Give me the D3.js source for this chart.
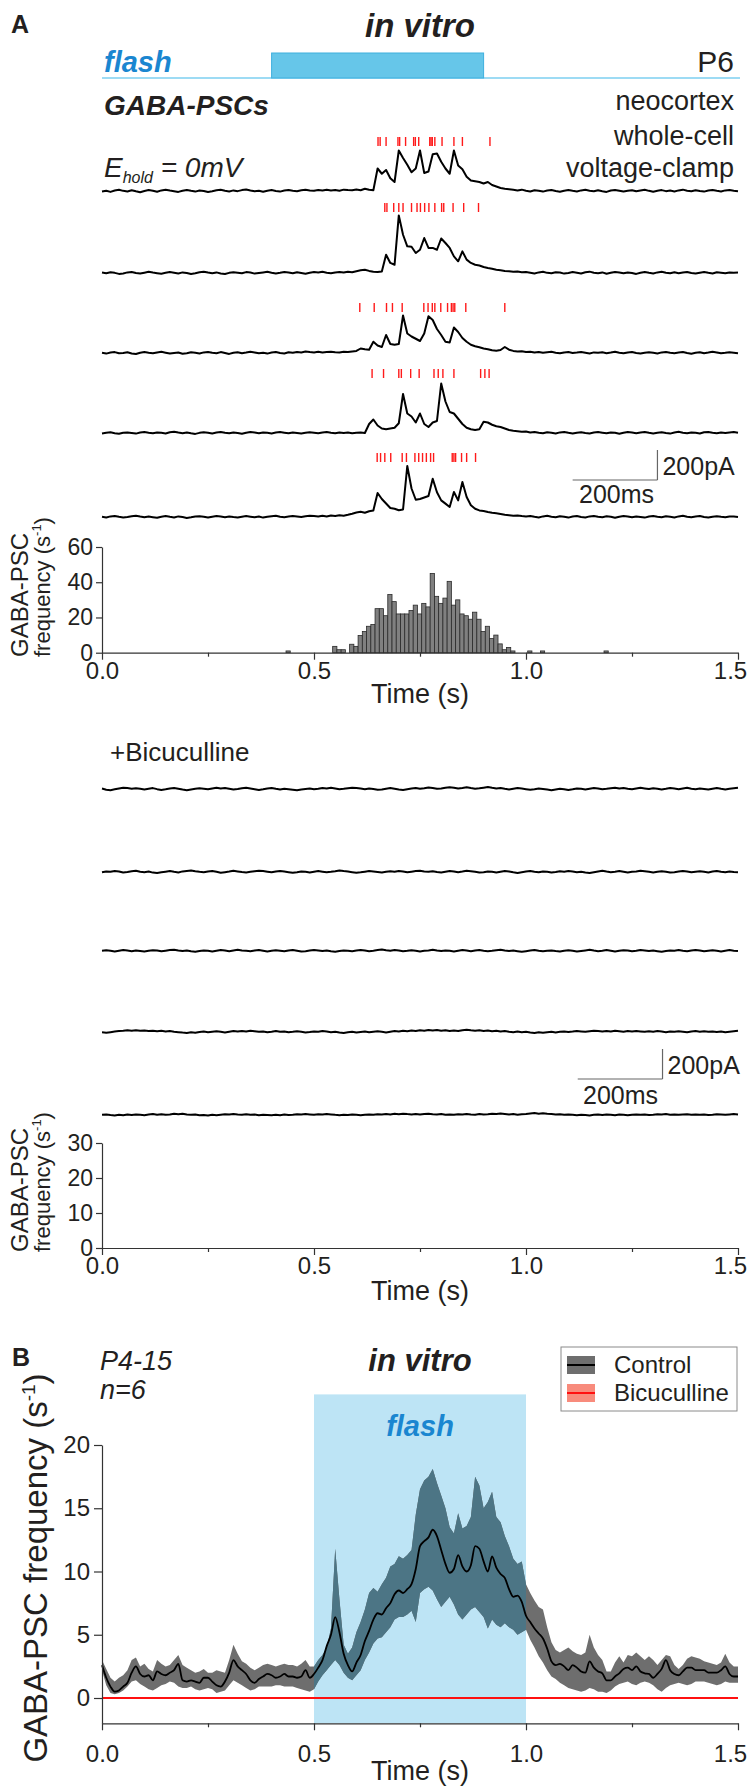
<!DOCTYPE html>
<html>
<head>
<meta charset="utf-8">
<script src="https://cdn.jsdelivr.net/npm/d3@7/dist/d3.min.js"></script>
<style>
  body { margin: 0; background: #fff; }
  svg { display: block; }
</style>
</head>
<body>
<div id="chart"></div>
<script>
// ---------- data ----------
var traceStep = 0.01; // s per sample, traces and panel B

// control whole-cell traces, pA relative to baseline
var ctrlTrace1 = [
  -4, 2, -6, 3, 8, 1, -3, 5, -2, -8,
  0, 6, 2, -5, 4, 9, 3, -1, -6, 2,
  7, 1, -4, 3, 0, -7, -2, 5, 8, 2,
  -3, 4, -1, 6, 10, 3, -2, 1, -5, 2,
  6, 0, -4, 3, 7, 2, -1, 5, 9, 4,
  1, 6, 3, 8, 4, 7, 2, 9, 6, 5,
  10, 5, 15, 8, 5, 150, 115, 140, 85, 60,
  270, 220, 175, 125, 150, 270, 120, 130, 245, 250,
  195, 150, 115, 270, 170, 145, 95, 70, 65, 60,
  50, 60, 40, 30, 20, 15, 12, 8, 4, 9,
  2, -3, 5, 1, -4, 3, 7, 0, -5, 2,
  6, 1, -3, 4, 8, 2, -2, 5, -1, -6,
  3, 7, 2, -4, 1, 5, -2, 3, 8, 1,
  -5, 2, 6, -1, 3, -3, 4, 9, 2, -2,
  5, 0, -4, 3, 6, 1, -3, 4, 7, 2,
  -1];
var ctrlTrace2 = [
  3, -2, 5, 1, -6, -3, 4, 7, 0, -4,
  2, 8, 3, -1, -5, 1, 6, 2, -3, 4,
  0, -6, -2, 5, 9, 3, -1, 4, -3, -7,
  1, 5, 2, -2, 6, 3, -4, 0, 4, 8,
  2, -3, 1, 6, 3, -2, 5, 0, -5, 2,
  6, 3, 8, 2, -1, 4, 7, 3, 9, 5,
  12, 18, 22, 14, 8, 6, 10, 122, 67, 55,
  384, 255, 178, 175, 133, 155, 233, 167, 167, 155,
  230, 200, 167, 111, 78, 144, 89, 67, 55, 50,
  40, 33, 28, 22, 18, 14, 12, 8, 10, 5,
  7, 2, -3, 4, 8, 1, -2, 5, 3, -4,
  0, 6, 2, -3, 5, 9, 2, -1, 4, -5,
  1, 7, 3, -2, 4, 0, -6, 2, 6, 1,
  -3, 4, 8, 2, -2, 5, -1, 3, 7, 0,
  -4, 2, 6, 1, -3, 5, 2, -2, 4, 1,
  3];
var ctrlTrace3 = [
  1, -4, 3, 6, -2, 0, 5, -3, -7, 2,
  6, 1, -2, 4, 8, 2, -4, 0, 3, -5,
  -1, 5, 2, -3, 4, 7, 1, -2, 6, 0,
  -6, 2, 5, -1, 3, 8, 4, -2, 1, -4,
  3, 6, 0, -3, 5, 2, 7, 3, 10, 6,
  4, 8, 3, 6, 9, 5, 3, 8, 6, 10,
  14, 30, 25, 22, 75, 50, 40, 120, 60, 55,
  60, 250, 130, 110, 95, 80, 130, 245, 220, 160,
  120, 75, 70, 170, 140, 100, 75, 55, 45, 38,
  30, 25, 18, 15, 20, 40, 22, 14, 10, 12,
  6, 9, 3, 7, 1, 5, 8, 2, -2, 4,
  6, 0, 3, 7, 2, -3, 4, 1, 5, -1,
  3, 8, 2, -2, 4, 6, 0, -4, 2, 5,
  1, -3, 4, 7, 2, -1, 3, 6, 0, -5,
  2, 5, -1, 3, 8, 4, -2, 1, 5, 2,
  -1];
var ctrlTrace4 = [
  -3, 2, 5, -1, -5, 1, 4, 0, -4, 3,
  7, 2, -2, 4, 1, -3, 5, 8, 3, -1,
  4, -2, -6, 1, 5, 2, -3, 3, 7, 1,
  -2, 4, 0, -5, 2, 6, 3, -1, 4, 1,
  -3, 3, 6, 2, -2, 4, 0, -4, 1, 5,
  2, -1, 3, 6, 1, -2, 4, 0, 3, -1,
  2, 4, 0, 60, 90, 50, 30, 25, 30, 35,
  65, 260, 130, 110, 70, 130, 60, 40, 70, 80,
  330, 210, 140, 130, 95, 60, 35, 25, 20, 25,
  75, 70, 55, 45, 40, 30, 20, 15, 12, 8,
  10, 4, 7, 1, -2, 5, 2, -3, 4, 7,
  1, -4, 2, 5, 0, -3, 3, 6, 2, -2,
  4, 1, -5, 2, 6, 3, -1, 4, 7, 1,
  -3, 2, 5, 0, -4, 3, 8, 2, -2, 4,
  1, -3, 5, 7, 2, -2, 3, 0, 4, 6,
  1];
var ctrlTrace5 = [
  2, -3, 4, 7, 1, -4, 0, 5, 9, 3,
  -2, 3, -1, -5, 2, 6, 1, -3, 4, 0,
  -6, -2, 3, 5, 1, -4, 2, 7, 3, -1,
  4, 0, -3, 2, 6, 2, -2, 3, -4, 1,
  5, 8, 2, -1, 3, 7, 4, 0, 5, 9,
  6, 3, 8, 4, 10, 7, 12, 9, 15, 22,
  30, 35, 28, 38, 44, 160, 120, 90, 60, 55,
  45, 50, 340, 190, 115, 120, 130, 140, 255, 165,
  111, 89, 67, 167, 111, 233, 133, 78, 55, 44,
  40, 33, 28, 25, 20, 15, 12, 8, 10, 6,
  3, 7, 1, -3, 4, 8, 2, -2, 5, 1,
  -4, 3, 6, 0, -3, 4, 7, 2, -1, 5,
  1, -5, 2, 6, 3, -2, 4, 0, -4, 3,
  7, 2, -1, 5, 1, -3, 4, 8, 2, -2,
  3, 6, 0, -4, 2, 5, 1, -2, 4, 3,
  0];

// detected GABA-PSC onsets (s), red marks above each control trace
var ctrlEvents1 = [0.651, 0.656, 0.670, 0.698, 0.702, 0.716, 0.735, 0.739, 0.747, 0.773, 0.776, 0.779, 0.785, 0.802, 0.830, 0.850, 0.915];
var ctrlEvents2 = [0.667, 0.672, 0.688, 0.700, 0.710, 0.730, 0.743, 0.751, 0.761, 0.771, 0.785, 0.801, 0.806, 0.828, 0.853, 0.888];
var ctrlEvents3 = [0.608, 0.642, 0.671, 0.685, 0.708, 0.759, 0.769, 0.779, 0.785, 0.799, 0.815, 0.824, 0.828, 0.832, 0.858, 0.950];
var ctrlEvents4 = [0.637, 0.664, 0.700, 0.706, 0.728, 0.748, 0.783, 0.793, 0.804, 0.830, 0.893, 0.903, 0.913];
var ctrlEvents5 = [0.649, 0.657, 0.667, 0.681, 0.708, 0.718, 0.738, 0.747, 0.756, 0.765, 0.775, 0.782, 0.826, 0.830, 0.834, 0.848, 0.860, 0.881];

// bicuculline traces, pA relative to baseline
var bicTrace1 = [
  3, -5, -8, -2, 4, 9, 6, 2, 5, 1,
  -3, 2, 6, -1, -6, -2, 3, 7, 2, -4,
  -8, -3, 1, 5, 2, -2, 4, 8, 3, 6,
  1, -4, 0, 5, 9, 4, -1, -6, -2, 3,
  6, 1, -3, 2, -1, -5, -9, -4, 0, 3,
  -2, 1, 6, 4, 8, 3, -2, 1, 5, 9,
  7, 3, -1, 4, 0, -5, -3, 2, 6, 1,
  -4, -7, -2, 3, 7, 2, 5, 10, 6, 1,
  4, 8, 12, 9, 4, 7, 11, 6, 2, 5,
  9, 13, 8, 4, 6, 1, -3, 2, 7, 3,
  -1, -5, -2, 3, 0, -4, -8, -3, 2, -1,
  -6, -2, 4, 1, -3, 2, 6, 3, -2, 1,
  5, 9, 4, 7, 2, -2, 3, 8, 4, 0,
  5, 2, -3, 1, 6, 3, -1, 4, 8, 2,
  -2, 3, 0, -4, 2, 6, 1, -3, 2, 5,
  8];
var bicTrace2 = [
  -2, 4, 1, 6, 3, -3, 0, 5, 8, 2,
  -1, 3, -4, -7, -2, 2, 6, 1, -3, 4,
  7, 10, 5, 1, -2, 3, 6, 2, -5, -1,
  3, 8, 4, 0, -3, 1, 5, 9, 6, 2,
  -2, 3, 7, 3, -1, -5, -1, 4, 1, -3,
  2, 6, 2, -2, 1, 5, 10, 6, 3, -1,
  -5, -2, 2, 6, 3, 0, -4, 1, 5, 2,
  7, 3, -2, 2, 6, 9, 4, 1, 5, 0,
  -3, 2, 7, 4, -1, 3, 8, 5, 1, -4,
  -1, 4, 1, -3, 2, 6, 3, -2, -6, -1,
  3, 7, 2, -2, 4, 1, -4, 0, 5, 2,
  6, 3, -1, 2, -3, -6, -1, 4, 8, 3,
  -1, 2, 6, 2, -3, 1, 4, 9, 5, 1,
  -3, 2, 5, 1, -4, -1, 3, 7, 3, -2,
  2, 5, 1, -3, 3, 7, 2, -1, 4, 0,
  -2];
var bicTrace3 = [
  1, 5, 2, -3, 2, 7, 3, -1, 4, 0,
  -4, 1, 5, 3, -2, 2, 6, 9, 4, 0,
  3, -2, -5, 0, 4, 1, -3, 2, 6, 3,
  -1, 4, 8, 4, 1, -2, 3, 7, 2, -3,
  1, 5, 2, -2, 3, 6, 1, -4, -1, 3,
  7, 4, 0, 3, -2, -5, 0, 4, 2, -1,
  3, 7, 3, -1, 2, 6, 10, 5, 2, 6,
  3, -2, 1, 5, 2, -3, 1, 4, 8, 3,
  0, 4, 1, -3, 2, 6, 3, -1, 3, 7,
  2, -2, 1, 5, 9, 4, 0, 3, -1, -5,
  -1, 3, 7, 2, -2, 1, 4, 0, -3, 2,
  5, 1, -4, 0, 4, 8, 3, -1, 2, 6,
  2, -3, 1, 5, 3, -2, 2, 7, 4, 0,
  3, -1, -5, 0, 4, 2, 6, 1, -2, 3,
  7, 3, -1, 2, 5, 1, -3, 2, 6, 2,
  0];
var bicTrace4 = [
  -2, -5, -1, 3, 6, 8, 11, 9, 12, 8,
  10, 7, 9, 5, 8, 4, 6, 2, -1, -4,
  -6, -2, -5, 0, 3, -1, 2, 5, 1, -3,
  2, 6, 3, 7, 4, 9, 5, 1, 4, -1,
  2, 6, 1, 4, -2, 1, 5, 2, -3, 0,
  4, 1, 6, 3, -1, 2, -3, -6, -2, 1,
  -4, 0, 3, -2, 2, 5, 1, -3, 2, 6,
  3, 8, 5, 10, 7, 12, 9, 14, 10, 13,
  9, 11, 6, 10, 7, 12, 15, 11, 8, 12,
  7, 10, 5, 8, 3, 6, 2, -1, 3, -2,
  1, -3, -6, -2, -5, -1, 2, -3, 1, 4,
  0, 3, 7, 4, 1, 5, 9, 6, 3, 7,
  4, 8, 5, 2, 6, 3, 7, 4, 1, 5,
  2, 6, 3, -1, 4, 1, 5, 2, -2, 3,
  6, 2, 5, 1, 4, 0, 3, -1, 2, 5,
  8];
var bicTrace5 = [
  2, 4, 0, -3, 1, -2, 3, 0, 4, 2,
  -1, 3, 6, 2, 5, 1, 4, 8, 5, 9,
  4, 1, 3, -2, 0, -3, 1, -1, 2, 5,
  3, 7, 4, 2, 5, 1, 3, -1, 2, 0,
  -2, 1, -1, 3, 0, 2, 5, 3, 6, 4,
  2, 5, 3, 7, 4, 1, -1, 2, 0, 3,
  1, -2, 2, 4, 1, 5, 3, 6, 4, 8,
  5, 9, 6, 4, 7, 3, 6, 8, 5, 3,
  6, 2, 4, 1, 5, 3, 7, 4, 2, 6,
  3, 5, 8, 6, 10, 7, 4, 6, 2, 5,
  7, 10, 13, 9, 11, 8, 6, 3, 5, 1,
  4, 2, -1, 2, 0, -3, 1, 3, 0, 4,
  2, -1, 3, 1, -2, 2, 4, 1, 3, 0,
  2, 5, 3, 6, 2, 4, 1, 3, 5, 2,
  4, 1, 3, 0, 2, 5, 3, 1, 4, 6,
  3];

// PSC frequency histogram (control), 10 ms bins: bin start (s) and rate (s^-1)
var histStart = [0.434, 0.544, 0.554, 0.564, 0.584, 0.594, 0.604, 0.614, 0.624, 0.634,
  0.644, 0.654, 0.664, 0.674, 0.684, 0.694, 0.704, 0.714, 0.724, 0.734,
  0.744, 0.754, 0.764, 0.774, 0.784, 0.794, 0.804, 0.814, 0.824, 0.834,
  0.844, 0.854, 0.864, 0.874, 0.884, 0.894, 0.904, 0.914, 0.924, 0.934,
  0.944, 0.954, 0.964, 1.004, 1.034, 1.184];
var histRate = [1, 3.6, 1.7, 1.7, 4.8, 3.6, 9.8, 12, 15, 16,
  25, 25, 21, 33, 29, 22, 22, 22, 24, 27,
  22, 28, 26, 45, 32, 28, 31, 40.5, 27, 30,
  22, 21, 19, 23, 19, 12, 15, 8, 10, 5,
  1.7, 3, 1, 1, 1, 1];

var flashA = [0.40, 0.90];
var flashB = [0.5, 1.0];

// panel B: average GABA-PSC frequency (s^-1), mean and SEM band, control
var bMean = [
  2.6, 1.6, 0.9, 0.5, 0.6, 0.9, 1.2, 2.0, 2.5, 1.9,
  1.7, 1.8, 1.4, 2.1, 1.9, 1.8, 2.0, 2.2, 2.7, 1.4,
  1.3, 1.4, 1.3, 1.2, 1.6, 1.6, 1.3, 1.0, 0.9, 1.3,
  2.0, 3.0, 2.5, 2.2, 1.9, 1.4, 1.2, 1.5, 1.7, 1.9,
  1.8, 1.6, 1.7, 1.9, 1.7, 1.7, 1.6, 1.7, 2.2, 1.6,
  1.9, 2.4, 3.0, 4.1, 5.0, 6.4, 5.2, 3.5, 2.6, 2.1,
  2.8, 3.4, 4.5, 5.3, 6.2, 6.7, 6.6, 7.1, 7.5, 8.2,
  8.5, 8.3, 8.6, 9.0, 10.2, 12.0, 12.4, 12.7, 13.3, 12.8,
  11.7, 10.6, 9.9, 10.2, 11.3, 10.4, 10.0, 10.5, 12.0, 11.8,
  10.8, 10.0, 11.2, 10.3, 9.8, 9.5, 8.6, 8.0, 8.1, 7.6,
  6.5, 6.0, 5.5, 5.1, 4.7, 3.9, 2.9, 2.6, 2.7, 2.5,
  2.2, 2.6, 2.4, 2.1, 2.0, 2.9, 2.4, 2.1, 1.95, 1.4,
  1.4, 1.7, 1.95, 2.3, 2.4, 2.2, 2.5, 2.1, 1.95, 1.9,
  1.6, 1.9, 2.3, 3.0, 2.2, 1.9, 1.8, 2.1, 2.4, 2.4,
  2.2, 2.2, 2.2, 2.0, 2.0, 2.0, 2.2, 2.5, 1.9, 1.7,
  1.7];
var bHigh = [
  3.0, 2.3, 1.6, 1.3, 1.6, 1.8, 2.2, 3.0, 3.2, 2.5,
  2.7, 2.3, 2.1, 3.0, 2.7, 2.5, 2.6, 3.0, 3.4, 2.6,
  2.4, 2.2, 2.0, 2.1, 2.3, 2.0, 2.0, 2.2, 2.1, 2.0,
  3.0, 4.2, 3.5, 2.9, 2.7, 2.4, 2.2, 2.4, 2.6, 2.7,
  2.6, 2.5, 2.6, 2.7, 2.6, 2.6, 2.5, 2.7, 3.0, 2.5,
  2.5, 3.0, 3.4, 4.0, 5.5, 11.8, 7.8, 4.2, 3.5, 4.0,
  5.2, 6.0, 7.0, 8.3, 8.7, 8.4, 9.0, 9.5, 10.4, 10.6,
  11.2, 11.0, 11.3, 11.7, 14.5, 16.5, 17.2, 17.5, 18.1, 17.0,
  16.0, 15.0, 13.5, 13.0, 14.6, 13.4, 13.6, 14.3, 17.5, 16.8,
  15.0, 15.5, 16.3, 14.3, 13.9, 12.8, 12.0, 11.0, 10.6, 10.8,
  9.0, 8.3, 7.7, 7.2, 7.0, 5.6, 4.4, 3.8, 3.6, 3.8,
  4.0, 3.7, 3.5, 3.4, 3.6, 5.0, 4.0, 3.4, 3.0, 2.1,
  2.1, 2.8, 3.3, 2.8, 3.4, 3.3, 3.6, 3.3, 3.0, 3.3,
  3.0, 2.6, 3.0, 3.4, 3.3, 2.6, 2.3, 2.6, 3.1, 3.3,
  3.2, 3.1, 2.9, 2.8, 2.7, 2.6, 2.8, 3.5, 2.8, 2.5,
  2.5];
var bLow = [
  2.2, 1.0, 0.4, 0.3, 0.4, 0.6, 0.9, 1.3, 1.4, 1.1,
  0.9, 0.7, 0.6, 0.8, 1.0, 1.1, 1.3, 1.2, 0.9, 0.8,
  0.8, 0.9, 0.7, 0.6, 0.7, 0.8, 0.7, 0.4, 0.5, 0.6,
  1.0, 1.4, 1.2, 1.0, 0.8, 0.6, 0.7, 0.9, 0.9, 0.9,
  0.9, 1.0, 1.0, 0.9, 0.9, 0.9, 0.8, 0.7, 0.6, 0.5,
  0.7, 1.3, 1.8, 2.2, 2.6, 3.0, 2.6, 2.0, 1.6, 1.4,
  1.8, 2.2, 3.0, 3.6, 4.3, 4.7, 4.8, 5.2, 5.6, 6.2,
  6.4, 6.4, 6.6, 6.9, 6.0, 8.3, 8.6, 8.8, 8.5, 7.8,
  7.2, 7.6, 8.0, 7.4, 6.6, 6.2, 6.6, 7.0, 7.2, 6.8,
  6.4, 5.5, 6.2, 5.8, 5.6, 5.9, 5.6, 5.4, 5.0, 5.2,
  5.4, 4.6, 4.0, 3.3, 2.8, 2.2, 1.7, 1.5, 1.2, 1.0,
  0.8, 0.7, 0.6, 0.5, 0.6, 0.8, 0.7, 0.5, 0.5, 0.4,
  0.6, 0.9, 1.1, 1.2, 1.3, 1.1, 1.0, 1.2, 1.3, 1.2,
  1.0, 0.7, 0.5, 0.8, 1.0, 1.1, 1.2, 1.1, 1.0, 1.1,
  1.3, 1.3, 1.3, 1.2, 1.1, 1.0, 1.1, 1.3, 1.2, 1.2,
  1.2];
// bicuculline: no GABA-PSCs at all
var bicTime = [0, 1.5];
var bicMean = [0, 0];

var timeTicks = [0, 0.5, 1.0, 1.5];
var timeMinor = [0.25, 0.75, 1.25];
var hist1Ticks = [0, 20, 40, 60];
var hist2Ticks = [0, 10, 20, 30];
var bTicks = [0, 5, 10, 15, 20];

// ---------- drawing ----------
var FONT = "Arial, 'Liberation Sans', Helvetica, sans-serif";
var INK = "#231f20";
var BLUE_TXT = "#1a86d0";

var svg = d3.select("#chart").append("svg")
    .attr("width", 748).attr("height", 1789)
    .attr("font-family", FONT);

var x = d3.scaleLinear().domain([0, 1.5]).range([102, 738]);

function label(s, px, py, size, opt) {
  opt = opt || {};
  return svg.append("text")
      .attr("x", px).attr("y", py)
      .attr("font-size", size)
      .attr("font-weight", opt.bold ? "bold" : null)
      .attr("font-style", opt.italic ? "italic" : null)
      .attr("text-anchor", opt.anchor || "start")
      .attr("fill", opt.color || INK)
      .text(s);
}

// --- panel A header ---
label("A", 11, 33, 25, {bold: true});
label("in vitro", x(0.75), 37, 33, {bold: true, italic: true, anchor: "middle"});
svg.append("line")
    .attr("x1", x(0)).attr("x2", x(1.5) + 2)
    .attr("y1", 78).attr("y2", 78)
    .attr("stroke", "#7dcff0").attr("stroke-width", 1.5);
svg.append("rect")
    .attr("x", x(flashA[0])).attr("width", x(flashA[1]) - x(flashA[0]))
    .attr("y", 53).attr("height", 25)
    .attr("fill", "#66c6e9").attr("stroke", "#3fb0de").attr("stroke-width", 1);
label("flash", 104, 72, 29, {bold: true, italic: true, color: BLUE_TXT});
label("P6", 734, 72, 30, {anchor: "end"});
label("GABA-PSCs", 104, 115, 28, {bold: true, italic: true});
label("neocortex", 734, 110, 27, {anchor: "end"});
label("whole-cell", 734, 145, 27, {anchor: "end"});
label("voltage-clamp", 734, 177, 27, {anchor: "end"});
var eh = label("E", 104, 177, 28, {italic: true});
eh.append("tspan").attr("font-size", 16).attr("dy", 6).text("hold");
eh.append("tspan").attr("dy", -6).text(" = 0mV");

// --- traces ---
var pxPer200pA = 30;
function drawTrace(data, base) {
  var y = d3.scaleLinear().domain([0, 200]).range([base, base - pxPer200pA]);
  var line = d3.line()
      .x(function(d, i) { return x(i * traceStep); })
      .y(function(d) { return y(d); });
  svg.append("path").datum(data)
      .attr("fill", "none")
      .attr("stroke", "#000")
      .attr("stroke-width", 2)
      .attr("stroke-linejoin", "round")
      .attr("d", line);
}

var ctrlTraces = [ctrlTrace1, ctrlTrace2, ctrlTrace3, ctrlTrace4, ctrlTrace5];
var ctrlEvents = [ctrlEvents1, ctrlEvents2, ctrlEvents3, ctrlEvents4, ctrlEvents5];
var ctrlBase = [191, 273, 353, 433, 517];
var eventTop = [137, 203, 303, 369, 453];

ctrlTraces.forEach(function(tr, i) {
  drawTrace(tr, ctrlBase[i]);
  svg.append("g").selectAll("line")
    .data(ctrlEvents[i])
    .enter().append("line")
      .attr("x1", function(d) { return x(d); })
      .attr("x2", function(d) { return x(d); })
      .attr("y1", eventTop[i])
      .attr("y2", eventTop[i] + 9)
      .attr("stroke", "#ff1a1a")
      .attr("stroke-width", 1.4);
});

function scaleBar(tEnd, yBottom, pAy, msy, msx) {
  var g = svg.append("g").attr("stroke", "#666").attr("stroke-width", 1.2).attr("fill", "none");
  g.append("line").attr("x1", x(tEnd)).attr("x2", x(tEnd))
      .attr("y1", yBottom).attr("y2", yBottom - pxPer200pA);
  g.append("line").attr("x1", x(tEnd - 0.2)).attr("x2", x(tEnd))
      .attr("y1", yBottom).attr("y2", yBottom);
  label("200pA", x(tEnd) + 5, pAy, 25);
  label("200ms", msx, msy, 25);
}
scaleBar(1.31, 480, 475, 503, 579);

// --- axes helpers ---
function timeAxis(yPx, pad, size) {
  var g = svg.append("g").attr("transform", "translate(0," + yPx + ")")
      .call(d3.axisBottom(x).tickValues(timeTicks).tickFormat(d3.format(".1f"))
            .tickSize(7).tickSizeOuter(0).tickPadding(pad));
  var m = svg.append("g").attr("transform", "translate(0," + yPx + ")")
      .call(d3.axisBottom(x).tickValues(timeMinor).tickFormat("").tickSize(4).tickSizeOuter(0));
  m.select(".domain").remove();
  m.selectAll("line").attr("stroke", "#333").attr("stroke-width", 1.2);
  g.attr("font-family", FONT).attr("font-size", size);
  g.selectAll("text").attr("fill", INK);
  // last label sits at the right page edge
  g.selectAll(".tick text").filter(function(d) { return d === 1.5; }).attr("dx", -8);
  g.selectAll("line, path").attr("stroke", "#333").attr("stroke-width", 1.2);
  return g;
}
function valueAxis(y, ticks) {
  var g = svg.append("g").attr("transform", "translate(" + x(0) + ",0)")
      .call(d3.axisLeft(y).tickValues(ticks).tickSize(6).tickSizeOuter(0).tickPadding(3));
  g.attr("font-family", FONT).attr("font-size", 23);
  g.selectAll("text").attr("fill", INK);
  g.selectAll("line, path").attr("stroke", "#333").attr("stroke-width", 1.2);
  return g;
}
function freqTitle(bottom) {
  svg.append("text").attr("transform", "translate(28," + bottom + ") rotate(-90)")
      .attr("font-size", 24).attr("fill", INK).text("GABA-PSC");
  var t2 = svg.append("text").attr("transform", "translate(50," + bottom + ") rotate(-90)")
      .attr("font-size", 22).attr("fill", INK).text("frequency (s");
  t2.append("tspan").attr("font-size", 13).attr("dy", -9).text("-1");
  t2.append("tspan").attr("dy", 9).text(")");
}

// --- histogram 1 (control) ---
var yH1 = d3.scaleLinear().domain([0, 60]).range([652.7, 547]);
svg.append("g").selectAll("rect")
  .data(histStart)
  .enter().append("rect")
    .attr("x", function(d) { return x(d); })
    .attr("width", x(0.01) - x(0))
    .attr("y", function(d, i) { return yH1(histRate[i]); })
    .attr("height", function(d, i) { return yH1(0) - yH1(histRate[i]); })
    .attr("fill", "#808080")
    .attr("stroke", "#2a2a2a")
    .attr("stroke-width", 0.8);
valueAxis(yH1, hist1Ticks);
timeAxis(652.7, 2, 24);
label("Time (s)", x(0.75), 703, 27, {anchor: "middle"});
freqTitle(657);

// --- bicuculline traces ---
label("+Bicuculline", 110, 761, 26);
var bicTraces = [bicTrace1, bicTrace2, bicTrace3, bicTrace4, bicTrace5];
var bicBase = [789, 872, 951, 1032, 1115];
bicTraces.forEach(function(tr, i) { drawTrace(tr, bicBase[i]); });
scaleBar(1.322, 1079, 1074, 1104, 583);

// --- histogram 2 (bicuculline, empty) ---
var yH2 = d3.scaleLinear().domain([0, 30]).range([1248, 1143]);
valueAxis(yH2, hist2Ticks);
timeAxis(1248, 2, 24);
label("Time (s)", x(0.75), 1300, 27, {anchor: "middle"});
freqTitle(1252);

// --- panel B ---
var yB = d3.scaleLinear().domain([-2, 20]).range([1723.3, 1445]);
label("B", 12, 1366, 25, {bold: true});
label("P4-15", 100, 1370, 27, {italic: true});
label("n=6", 100, 1399, 27, {italic: true});
label("in vitro", x(0.75), 1371, 31, {bold: true, italic: true, anchor: "middle"});

svg.append("rect")
    .attr("x", x(flashB[0])).attr("width", x(flashB[1]) - x(flashB[0]))
    .attr("y", yB(24)).attr("height", yB(-2) - yB(24))
    .attr("fill", "#bde4f5");
label("flash", x(0.75), 1436, 29, {bold: true, italic: true, anchor: "middle", color: BLUE_TXT});

var band = d3.area()
    .x(function(d, i) { return x(i * traceStep); })
    .y0(function(d, i) { return yB(bLow[i]); })
    .y1(function(d, i) { return yB(bHigh[i]); });
svg.append("defs").append("clipPath").attr("id", "flashClip")
  .append("rect")
    .attr("x", x(flashB[0])).attr("width", x(flashB[1]) - x(flashB[0]))
    .attr("y", 0).attr("height", 1789);
svg.append("path").datum(bMean).attr("d", band).attr("fill", "#6e6e6e");
svg.append("path").datum(bMean).attr("d", band).attr("fill", "#4c7585")
    .attr("clip-path", "url(#flashClip)");
svg.append("path").datum(bMean)
    .attr("fill", "none").attr("stroke", "#000").attr("stroke-width", 1.8)
    .attr("d", d3.line().curve(d3.curveMonotoneX)
        .x(function(d, i) { return x(i * traceStep); })
        .y(function(d) { return yB(d); }));
svg.append("path").datum(bicMean)
    .attr("fill", "none").attr("stroke", "#ff1010").attr("stroke-width", 2)
    .attr("d", d3.line()
        .x(function(d, i) { return x(bicTime[i]); })
        .y(function(d) { return yB(d); }));

var gyB = svg.append("g").attr("transform", "translate(" + x(0) + ",0)")
    .call(d3.axisLeft(yB).tickValues(bTicks).tickSize(8).tickSizeOuter(0).tickPadding(4));
gyB.attr("font-family", FONT).attr("font-size", 24);
gyB.selectAll("text").attr("fill", INK);
gyB.selectAll("line, path").attr("stroke", "#333").attr("stroke-width", 1.2);
timeAxis(1723.3, 15, 24);
label("Time (s)", x(0.75), 1780, 27, {anchor: "middle"});

var yt = svg.append("text").attr("transform", "translate(47,1568) rotate(-90)")
    .attr("text-anchor", "middle").attr("font-size", 33).attr("fill", INK)
    .text("GABA-PSC frequency (s");
yt.append("tspan").attr("font-size", 19).attr("dy", -12).text("-1");
yt.append("tspan").attr("dy", 12).text(")");

// legend
var lg = svg.append("g");
lg.append("rect").attr("x", 561).attr("y", 1347).attr("width", 176).attr("height", 64)
    .attr("fill", "#fff").attr("stroke", "#8a8a8a").attr("stroke-width", 1);
var legendRows = [
  {name: "Control", fill: "#6e6e6e", line: "#000", y: 1365},
  {name: "Bicuculline", fill: "#f88b7c", line: "#ff1010", y: 1393}
];
legendRows.forEach(function(r) {
  lg.append("rect").attr("x", 567).attr("y", r.y - 9).attr("width", 28).attr("height", 18).attr("fill", r.fill);
  lg.append("line").attr("x1", 567).attr("x2", 595).attr("y1", r.y).attr("y2", r.y)
      .attr("stroke", r.line).attr("stroke-width", 2);
  lg.append("text").attr("x", 614).attr("y", r.y + 8).attr("font-size", 24).attr("fill", INK).text(r.name);
});
</script>
</body>
</html>
